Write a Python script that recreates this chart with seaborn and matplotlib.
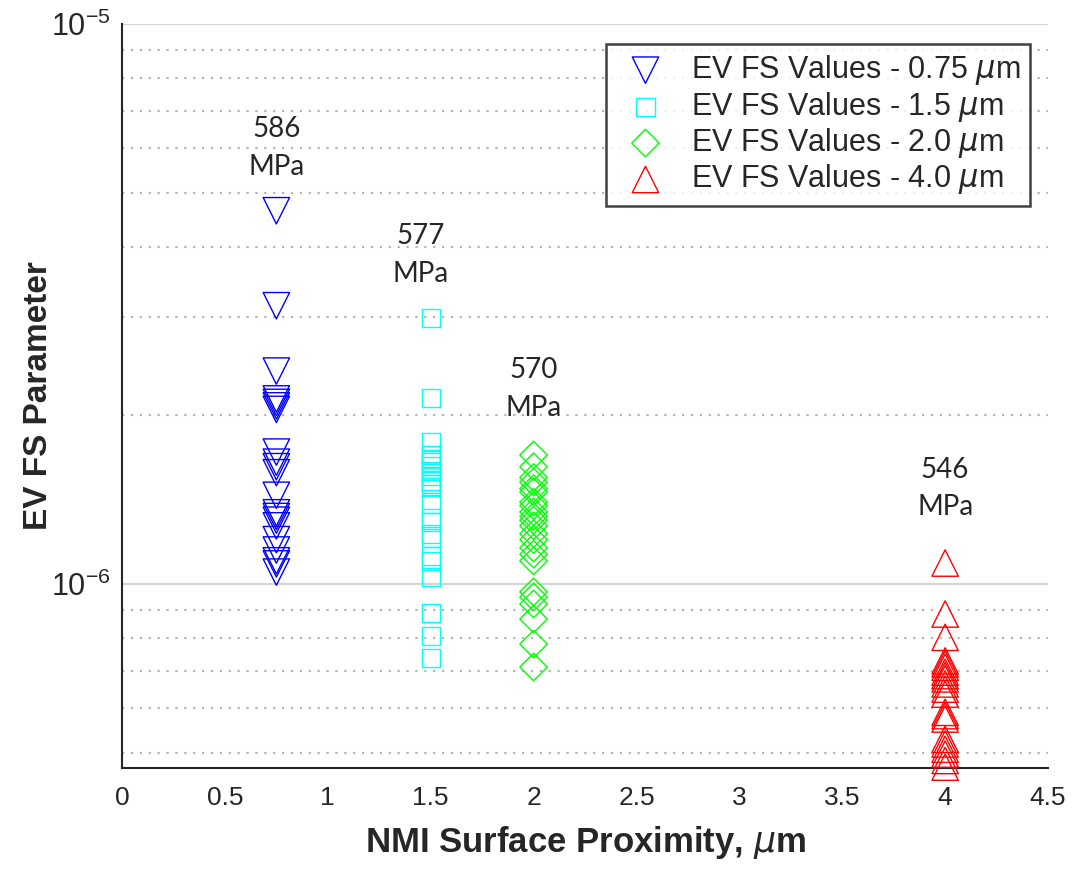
import numpy as np
import pandas as pd
import matplotlib
matplotlib.use("Agg")
import matplotlib.pyplot as plt
import seaborn as sns
from matplotlib.ticker import LogLocator, NullFormatter

# NMI surface proximity (um) for each group
proximity = [0.75, 1.5, 2.0, 4.0]
group_names = ["EV FS Values - 0.75 $\\mu$m", "EV FS Values - 1.5 $\\mu$m",
               "EV FS Values - 2.0 $\\mu$m", "EV FS Values - 4.0 $\\mu$m"]

# EV FS parameter values
fs_075 = [4.64e-6, 3.14e-6, 2.40e-6, 2.14e-6, 2.11e-6, 2.08e-6, 2.05e-6,
          1.72e-6, 1.65e-6, 1.62e-6, 1.58e-6, 1.44e-6, 1.34e-6, 1.32e-6,
          1.30e-6, 1.27e-6, 1.20e-6, 1.15e-6, 1.10e-6, 1.086e-6, 1.05e-6]
fs_15 = [2.99e-6, 2.15e-6, 1.79e-6, 1.70e-6, 1.67e-6, 1.65e-6, 1.625e-6,
         1.59e-6, 1.56e-6, 1.53e-6, 1.51e-6, 1.49e-6, 1.39e-6, 1.31e-6,
         1.29e-6, 1.23e-6, 1.21e-6, 1.12e-6, 1.10e-6, 1.03e-6, 8.89e-7,
         8.07e-7, 7.38e-7]
fs_20 = [1.70e-6, 1.62e-6, 1.55e-6, 1.52e-6, 1.48e-6, 1.46e-6, 1.40e-6,
         1.38e-6, 1.345e-6, 1.32e-6, 1.30e-6, 1.27e-6, 1.23e-6, 1.20e-6,
         1.16e-6, 1.13e-6, 1.10e-6, 9.68e-7, 9.48e-7, 9.21e-7, 8.66e-7,
         7.81e-7, 7.11e-7]
fs_40 = [1.09e-6, 8.84e-7, 8.03e-7, 7.29e-7, 7.20e-7, 7.10e-7, 6.96e-7,
         6.86e-7, 6.77e-7, 6.63e-7, 6.49e-7, 6.36e-7, 5.90e-7, 5.82e-7,
         5.74e-7, 5.28e-7, 5.18e-7, 5.07e-7, 4.97e-7, 4.84e-7, 4.71e-7]

# fracture strength annotations
strength_text = ["586\nMPa", "577\nMPa", "570\nMPa", "546\nMPa"]
strength_x = [0.75, 1.45, 2.0, 4.0]
strength_y = [6.0e-6, 3.87e-6, 2.23e-6, 1.48e-6]

colors = ["#0000ff", "#00ffff", "#00ff00", "#ff0000"]
markers = ["v", "s", "D", "^"]
sizes = [19 ** 2, 13 ** 2, 14 ** 2, 19 ** 2]

sns.set_style("white")
plt.rcParams["font.family"] = ["Liberation Sans", "DejaVu Sans"]
plt.rcParams["mathtext.fontset"] = "dejavusans"

fig = plt.figure(figsize=(10.77, 8.69), dpi=100)
ax = fig.add_axes([0.1133, 0.1162, 0.8598, 0.8562])

for xval, vals, name, col, mk, sz in zip(proximity, [fs_075, fs_15, fs_20, fs_40],
                                         group_names, colors, markers, sizes):
    df = pd.DataFrame({"x": [xval] * len(vals), "y": vals})
    sns.scatterplot(data=df, x="x", y="y", marker=mk, s=sz, facecolors="none",
                    edgecolor=col, linewidth=1.0, label=name, ax=ax,
                    clip_on=False, zorder=3)

for tx, ty, t in zip(strength_x, strength_y, strength_text):
    ax.text(tx, ty, t, ha="center", va="center", fontsize=20,
            family="Lato", linespacing=1.55)

ax.set_yscale("log")
ax.set_xlim(0, 4.5)
ax.set_ylim(10 ** -6.3286, 1e-5)
ax.set_xticks(np.arange(0, 4.51, 0.5))
ax.set_xticklabels(["0", "0.5", "1", "1.5", "2", "2.5", "3", "3.5", "4", "4.5"])
ax.yaxis.set_major_locator(LogLocator(base=10, numticks=10))
ax.yaxis.set_minor_locator(LogLocator(base=10, subs=np.arange(2, 10), numticks=20))
ax.yaxis.set_minor_formatter(NullFormatter())

ax.grid(False)
ax.yaxis.grid(True, which="major", color="#d4d4d4", linestyle="-", linewidth=1.6, zorder=0)
ax.yaxis.grid(True, which="minor", color="#b5b5b5", linestyle=(0, (1, 3)), linewidth=1.6, zorder=0)
ax.set_axisbelow(True)

ax.tick_params(axis="both", which="major", direction="in", length=8, width=1.2,
               colors="#262626")
ax.tick_params(axis="x", labelsize=19, pad=13)
ax.tick_params(axis="y", labelsize=22, pad=8)
ax.tick_params(axis="y", which="minor", direction="in", length=4, width=1.0)

for side in ["top", "right"]:
    ax.spines[side].set_visible(False)
for side in ["left", "bottom"]:
    ax.spines[side].set_linewidth(1.5)
    ax.spines[side].set_color("#262626")

ax.set_xlabel("NMI Surface Proximity, $\\mu$m", fontsize=25, fontweight="bold", labelpad=10)
ax.set_ylabel("EV FS Parameter", fontsize=24, fontweight="bold", labelpad=-2)

leg = ax.legend(loc="upper right", bbox_to_anchor=(0.9806, 0.9731), borderaxespad=0,
                fontsize=22, frameon=True, fancybox=False, edgecolor="#111111",
                handletextpad=0.5, borderpad=0.3, labelspacing=0.08)
leg.get_frame().set_linewidth(1.8)

fig.savefig("out.png", dpi=100)
